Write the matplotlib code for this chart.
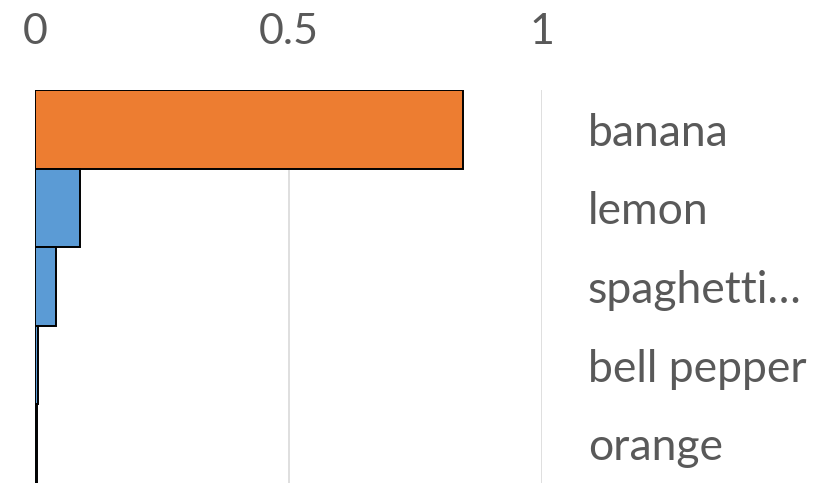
import matplotlib.pyplot as plt

# Fruit scores, top to bottom
labels = ["banana", "lemon", "spaghetti…", "bell pepper", "orange"]
values = [0.845, 0.089, 0.041, 0.005, 0.004]
bar_colors = ["#ED7D31", "#5B9BD5", "#5B9BD5", "#5B9BD5", "#5B9BD5"]
ticks = [0, 0.5, 1]
tick_labels = ["0", "0.5", "1"]

plt.rcParams['font.family'] = ['Lato', 'DejaVu Sans']

fig = plt.figure(figsize=(8.36, 4.83), dpi=100)
ax = fig.add_axes([0.0419, 0.0, 0.6065, 0.8137])

pos = list(range(len(labels)))
ax.barh(pos, values, height=1.0, color=bar_colors, edgecolor="black",
        linewidth=1.4, zorder=3)

ax.set_xlim(0, 1)
ax.set_ylim(len(labels) - 0.5, -0.5)

# value axis on top, categories on the right
ax.xaxis.tick_top()
ax.set_xticks(ticks)
ax.set_xticklabels(tick_labels)
ax.tick_params(axis="x", length=0, pad=28, labelsize=31, labelcolor="#595959")

ax.yaxis.tick_right()
ax.set_yticks(pos)
ax.set_yticklabels(labels)
ax.tick_params(axis="y", length=0, pad=33, labelsize=32, labelcolor="#595959")
for t in ax.get_yticklabels():
    t.set_horizontalalignment("left")

ax.grid(axis="x", color="#d9d9d9", linewidth=1.2, zorder=0)
for s in ax.spines.values():
    s.set_visible(False)

fig.savefig("out.png", dpi=100)
